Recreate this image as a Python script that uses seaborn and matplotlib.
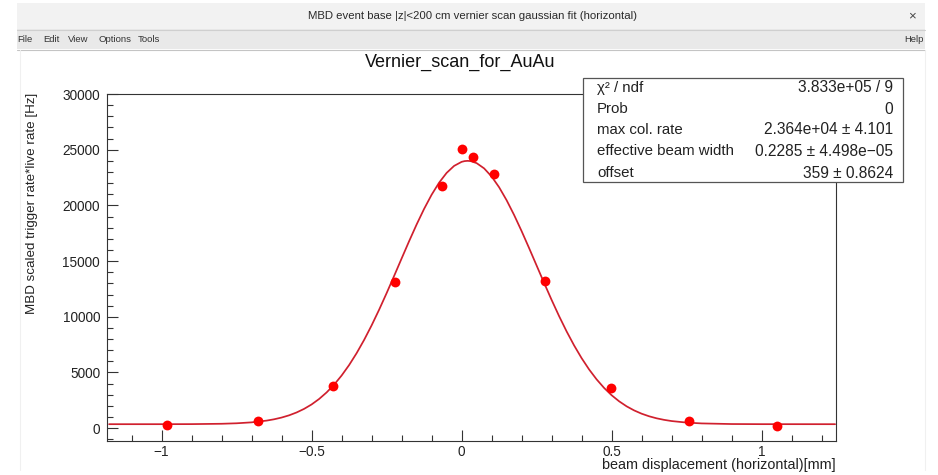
import matplotlib
matplotlib.use("Agg")
import matplotlib.pyplot as plt
from matplotlib.patches import Rectangle
from matplotlib.lines import Line2D
from matplotlib.ticker import MultipleLocator, FuncFormatter
import seaborn as sns
import pandas as pd

# ---------------- data ----------------
x_points = [-0.983, -0.678, -0.430, -0.221, -0.067, 0.000, 0.037, 0.107, 0.279, 0.497, 0.757, 1.052]
y_points = [250, 650, 3750, 13100, 21750, 25100, 24300, 22800, 13200, 3600, 620, 200]

fit_x = [-1.175, -1.0, -0.9, -0.8, -0.75, -0.7, -0.65, -0.625, -0.6, -0.575, -0.55, -0.525,
         -0.5, -0.475, -0.45, -0.425, -0.4, -0.375, -0.35, -0.325, -0.3, -0.275,
         -0.25, -0.225, -0.2, -0.175, -0.15, -0.125, -0.1, -0.075, -0.05, -0.025,
         0.0, 0.01, 0.02, 0.03, 0.05, 0.075, 0.1, 0.125, 0.15, 0.175, 0.2, 0.225,
         0.25, 0.275, 0.3, 0.325, 0.35, 0.375, 0.4, 0.425, 0.45, 0.475, 0.5, 0.525,
         0.55, 0.575, 0.6, 0.625, 0.65, 0.675, 0.7, 0.75, 0.8, 0.9, 1.0, 1.245]
fit_y = [359, 360, 366, 397, 440, 524, 680, 799, 955, 1155, 1412, 1734,
         2132, 2621, 3210, 3907, 4726, 5665, 6732, 7921, 9227, 10632,
         12120, 13663, 15231, 16784, 18283, 19687, 20954, 22042, 22916, 23545,
         23909, 23976, 23999, 23976, 23796, 23324, 22594, 21630, 20466, 19140, 17693, 16167,
         14604, 13042, 11517, 10058, 8690, 7430, 6289, 5273, 4383, 3614, 2961, 2415,
         1963, 1597, 1302, 1069, 887, 748, 641, 503, 429, 373, 362, 359]

x_tick_values = [-1, -0.5, 0, 0.5, 1]
y_tick_values = [0, 5000, 10000, 15000, 20000, 25000, 30000]

stat_labels = ["χ² / ndf", "Prob", "max col. rate", "effective beam width", "offset"]
stat_values = ["3.833e+05 / 9", "0", "2.364e+04 ± 4.101", "0.2285 ± 4.498e−05", "359 ± 0.8624"]

window_title = "MBD event base |z|<200 cm vernier scan gaussian fit (horizontal)"
menu_items = ["File", "Edit", "View", "Options", "Tools"]
plot_title = "Vernier_scan_for_AuAu"
x_label = "beam displacement (horizontal)[mm]"
y_label = "MBD scaled trigger rate*live rate [Hz]"

# ---------------- style ----------------
sns.set_style("ticks")
plt.rcParams["font.family"] = ["Liberation Sans", "DejaVu Sans"]
plt.rcParams["axes.unicode_minus"] = True

W, H = 938, 475
fig = plt.figure(figsize=(W / 100, H / 100), dpi=100)
fig.patch.set_facecolor("white")


def fx(px):
    return px / W


def fy(py):
    return 1 - py / H


# ---------------- window chrome ----------------
fig.add_artist(Rectangle((fx(17), fy(29)), fx(908), 26 / H, transform=fig.transFigure,
                         facecolor="#f2f2f2", edgecolor="none", zorder=0))
fig.add_artist(Rectangle((fx(17), fy(49)), fx(908), 20 / H, transform=fig.transFigure,
                         facecolor="#e9e9e9", edgecolor="none", zorder=0))
fig.add_artist(Line2D([fx(17), fx(925)], [fy(29.5), fy(29.5)], transform=fig.transFigure,
                      color="#cfcfcf", lw=0.8))
fig.add_artist(Line2D([fx(17), fx(925)], [fy(49.5), fy(49.5)], transform=fig.transFigure,
                      color="#c4c4c4", lw=0.8))
fig.add_artist(Line2D([fx(20), fx(20)], [fy(50), fy(470)], transform=fig.transFigure,
                      color="#f0f0f0", lw=0.8))
fig.add_artist(Line2D([fx(925), fx(925)], [fy(50), fy(470)], transform=fig.transFigure,
                      color="#f0f0f0", lw=0.8))

fig.text(fx(472), fy(16), window_title, ha="center", va="center", fontsize=8.2, color="#2a2a2a")
fig.text(fx(912), fy(16), "×", ha="center", va="center", fontsize=9.5, color="#444444")
menu_x = [17, 43, 68, 98, 138]
for mx, item in zip(menu_x, menu_items):
    fig.text(fx(mx), fy(40), item, ha="left", va="center", fontsize=6.8, color="#333333")
fig.text(fx(924), fy(40), "Help", ha="right", va="center", fontsize=6.8, color="#333333")

# ---------------- axes ----------------
ax = fig.add_axes([fx(107), fy(441), 729 / W, 347 / H])
ax.set_facecolor("white")

fit_df = pd.DataFrame({"x": fit_x, "y": fit_y})
pts_df = pd.DataFrame({"x": x_points, "y": y_points})

sns.lineplot(data=fit_df, x="x", y="y", ax=ax, color="#d0202e", linewidth=1.25,
             estimator=None, sort=False, zorder=2)
sns.scatterplot(data=pts_df, x="x", y="y", ax=ax, color="#ff0000", s=50, linewidth=0,
                zorder=3)

ax.set_xlim(-1.182, 1.248)
ax.set_ylim(-1150, 30000)
ax.set_xlabel("")
ax.set_ylabel("")

ax.set_xticks(x_tick_values)
ax.set_yticks(y_tick_values)
ax.xaxis.set_minor_locator(MultipleLocator(0.1))
ax.yaxis.set_minor_locator(MultipleLocator(1000))


def fmt_x(v, pos):
    s = f"{v:g}"
    return s.replace("-", "\u2212")


ax.xaxis.set_major_formatter(FuncFormatter(fmt_x))
ax.yaxis.set_major_formatter(FuncFormatter(lambda v, p: f"{int(v)}"))

ax.tick_params(axis="both", which="major", direction="in", length=8, width=0.8,
               color="#333333", labelsize=9.8, labelcolor="#222222",
               top=False, right=False)
ax.tick_params(axis="both", which="minor", direction="in", length=4, width=0.8,
               color="#333333", top=False, right=False)
ax.tick_params(axis="x", which="major", pad=3)
ax.tick_params(axis="y", which="major", pad=5)

for sp in ax.spines.values():
    sp.set_visible(True)
    sp.set_color("#333333")
    sp.set_linewidth(0.8)

# ---------------- titles and labels ----------------
fig.text(fx(460), fy(62), plot_title, ha="center", va="center", fontsize=13, color="#111111")
fig.text(fx(836), fy(465), x_label, ha="right", va="center", fontsize=10.4, color="#222222")
fig.text(fx(32), fy(93), y_label, ha="right", va="center", rotation=90,
         rotation_mode="anchor", fontsize=9.6, color="#222222")

# ---------------- stat box ----------------
fig.add_artist(Rectangle((fx(583), fy(182)), 320 / W, 104 / H, transform=fig.transFigure,
                         facecolor="white", edgecolor="#555555", lw=0.9, zorder=5))
row_y = [88, 109, 130, 151, 173]
for ry, lab, val in zip(row_y, stat_labels, stat_values):
    fig.text(fx(597), fy(ry), lab, ha="left", va="center", fontsize=10.8, color="#222222",
             zorder=6)
    fig.text(fx(893), fy(ry), val, ha="right", va="center", fontsize=11.2, color="#222222",
             zorder=6)

fig.savefig("out.png", dpi=100)
